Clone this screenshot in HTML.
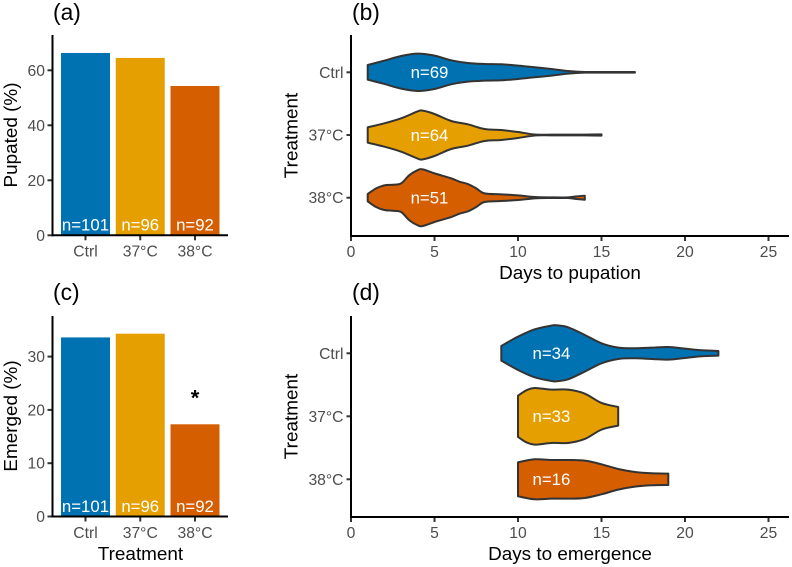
<!DOCTYPE html>
<html lang="en">
<head>
<meta charset="utf-8">
<title>Pupation and emergence by heat treatment</title>
<style>
html,body{margin:0;padding:0;background:#fff;width:792px;height:567px;overflow:hidden}
svg{display:block;font-family:"Liberation Sans",sans-serif}
.tick-label{font-size:15.7px;fill:#4d4d4d}
.axis-title{font-size:18.9px;fill:#000;text-anchor:middle}
.panel-tag{font-size:22.8px;fill:#000}
.n-label{font-size:16.8px;fill:#fff;text-anchor:middle}
</style>
</head>
<body>
<svg id="figure" width="792" height="567" viewBox="0 0 792 567" xmlns="http://www.w3.org/2000/svg">
  <g id="panel-a">
    <text class="panel-tag" x="53" y="20">(a)</text>
    <text class="axis-title" transform="translate(16.8,135) rotate(-90)">Pupated (%)</text>
  </g>
  <g id="panel-b">
    <text class="panel-tag" x="352" y="20">(b)</text>
    <text class="axis-title" transform="translate(297.7,135.5) rotate(-90)">Treatment</text>
    <text class="axis-title" x="570" y="279">Days to pupation</text>
  </g>
  <g id="panel-c">
    <text class="panel-tag" x="53" y="300">(c)</text>
    <text class="axis-title" transform="translate(16.8,416) rotate(-90)">Emerged (%)</text>
    <text class="axis-title" x="140.5" y="560">Treatment</text>
  </g>
  <g id="panel-d">
    <text class="panel-tag" x="352" y="300">(d)</text>
    <text class="axis-title" transform="translate(297.7,416.5) rotate(-90)">Treatment</text>
    <text class="axis-title" x="570" y="560">Days to emergence</text>
  </g>
</svg>
<script>
const categories = ['Ctrl', '37°C', '38°C'];
const sampleLabelsBars = ['n=101', 'n=96', 'n=92'];
const pupatedPercent = [66.3, 64.5, 54.3];
const emergedPercent = [33.6, 34.3, 17.3];
const pupatedTicks = [0, 20, 40, 60];
const emergedTicks = [0, 10, 20, 30];
const dayTicks = [0, 5, 10, 15, 20, 25];
const significanceMarks = ['', '', '*'];

const pupationLabels = ['n=69', 'n=64', 'n=51'];
const pupationDaysCtrl = [1, 2, 3, 4, 5, 6, 7, 8, 9, 10, 11, 12, 13, 14, 15, 16, 17];
const pupationDensityCtrl = [0.22, 0.35, 0.49, 0.56, 0.50, 0.36, 0.28, 0.25, 0.24, 0.20, 0.15, 0.10, 0.04, 0.01, 0.01, 0.01, 0.01];
const pupationDays37 = [1, 2, 3, 4, 4.3, 5, 6, 7, 8, 9, 10, 11, 12, 13, 14, 15];
const pupationDensity37 = [0.23, 0.35, 0.50, 0.71, 0.73, 0.63, 0.42, 0.32, 0.18, 0.15, 0.09, 0.015, 0.01, 0.01, 0.012, 0.02];
const pupationDays38 = [1, 1.5, 2, 2.5, 3, 3.5, 4, 4.3, 5, 6, 6.5, 7, 7.5, 8, 9, 10, 11, 12, 13, 13.5, 14];
const pupationDensity38 = [0.11, 0.28, 0.37, 0.39, 0.43, 0.68, 0.83, 0.85, 0.73, 0.58, 0.48, 0.41, 0.28, 0.13, 0.10, 0.07, 0.02, 0.01, 0.01, 0.04, 0.06];

const emergenceLabels = ['n=34', 'n=33', 'n=16'];
const emergenceDaysCtrl = [9, 10, 11, 12, 12.3, 13, 14, 15, 16, 17, 18, 19, 20, 21, 22];
const emergenceDensityCtrl = [0.22, 0.50, 0.72, 0.83, 0.84, 0.78, 0.55, 0.30, 0.17, 0.15, 0.17, 0.19, 0.14, 0.09, 0.07];
const emergenceDays37 = [10, 10.5, 11, 12, 13, 14, 15, 16];
const emergenceDensity37 = [0.62, 0.78, 0.85, 0.80, 0.80, 0.68, 0.40, 0.28];
const emergenceDays38 = [10, 11, 12, 13, 14, 15, 16, 17, 18, 19];
const emergenceDensity38 = [0.51, 0.60, 0.58, 0.58, 0.56, 0.45, 0.31, 0.22, 0.18, 0.17];

const colors = ['#0072B2', '#E69F00', '#D55E00'];
const NS = 'http://www.w3.org/2000/svg';

function add(parent, tag, attrs, text) {
  const el = document.createElementNS(NS, tag);
  for (const k in attrs) el.setAttribute(k, attrs[k]);
  if (text !== undefined) el.textContent = text;
  parent.appendChild(el);
  return el;
}

const barX = i => 85.5 + 54.75 * i;
const BAR_WIDTH = 49;
const dayX = d => 351 + 16.7 * d;
const halfWidth = density => density * 33.33;

function smoothPath(points) {
  let d = 'M' + points[0][0].toFixed(2) + ',' + points[0][1].toFixed(2);
  for (let i = 0; i < points.length - 1; i++) {
    const p0 = points[Math.max(i - 1, 0)], p1 = points[i], p2 = points[i + 1], p3 = points[Math.min(i + 2, points.length - 1)];
    const t = 1 / 6;
    d += 'C' + (p1[0] + (p2[0] - p0[0]) * t).toFixed(2) + ',' + (p1[1] + (p2[1] - p0[1]) * t).toFixed(2) + ' ' +
      (p2[0] - (p3[0] - p1[0]) * t).toFixed(2) + ',' + (p2[1] - (p3[1] - p1[1]) * t).toFixed(2) + ' ' +
      p2[0].toFixed(2) + ',' + p2[1].toFixed(2);
  }
  return d;
}

function drawAxisLines(g, left, right, top, bottom) {
  const yAxis = add(g, 'line', { x1: left, x2: left, y1: top, y2: bottom + 1, stroke: '#000', 'stroke-width': 2 });
  
  
  const xAxis = add(g, 'line', { x1: left - 1, x2: right, y1: bottom, y2: bottom, stroke: '#000', 'stroke-width': 2 });
  
  
}

function drawBarPanel(id, values, ticks, yScale, bottom, top, labelBaseline, showMarks) {
  const g = document.getElementById(id);
  values.forEach((v, i) => {
    const bar = add(g, 'rect', { x: barX(i) - BAR_WIDTH / 2, y: yScale(v), width: BAR_WIDTH, height: bottom - yScale(v), fill: colors[i] });
    
    
    const n = add(g, 'text', { class: 'n-label', x: barX(i), y: labelBaseline }, sampleLabelsBars[i]);
    
    
    if (showMarks && significanceMarks[i]) {
      const s = add(g, 'text', { x: barX(i), y: yScale(v) - 19, 'text-anchor': 'middle', 'font-size': 22, 'font-weight': 'bold', fill: '#000' }, significanceMarks[i]);
      
      
    }
    const tick = add(g, 'line', { x1: barX(i), x2: barX(i), y1: bottom, y2: bottom + 5, stroke: '#333', 'stroke-width': 2 });
    
    
    const lab = add(g, 'text', { class: 'tick-label', x: barX(i), y: bottom + 21.3, 'text-anchor': 'middle' }, categories[i]);
    
    
  });
  ticks.forEach(t => {
    const tick = add(g, 'line', { x1: 47.5, x2: 52, y1: yScale(t), y2: yScale(t), stroke: '#333', 'stroke-width': 2 });
    
    
    const lab = add(g, 'text', { class: 'tick-label', x: 45, y: yScale(t) + 5.5, 'text-anchor': 'end' }, t);
    
    
  });
  drawAxisLines(g, 52.5, 228, top, bottom);
}

function drawViolinPanel(id, series, labels, yCat, bottom, top) {
  const g = document.getElementById(id);
  series.forEach((s, i) => {
    const cy = yCat(i);
    const upper = s.days.map((d, j) => [dayX(d), cy - halfWidth(s.density[j])]);
    const lower = s.days.map((d, j) => [dayX(d), cy + halfWidth(s.density[j])]).reverse();
    const path = smoothPath(upper) + 'L' + lower[0][0].toFixed(2) + ',' + lower[0][1].toFixed(2) + smoothPath(lower).replace(/^M[^C]*/, '') + 'Z';
    const v = add(g, 'path', { d: path, fill: colors[i], stroke: '#333', 'stroke-width': 2, 'stroke-linejoin': 'round' });
    
    
    const n = add(g, 'text', { class: 'n-label', x: dayX(s.labelDay), y: cy + 5.8 }, labels[i]);
    
    
    const tick = add(g, 'line', { x1: 346.5, x2: 351, y1: cy, y2: cy, stroke: '#333', 'stroke-width': 2 });
    
    
    const lab = add(g, 'text', { class: 'tick-label', x: 343.5, y: cy + 5.5, 'text-anchor': 'end' }, categories[i]);
    
    
  });
  dayTicks.forEach(t => {
    const tick = add(g, 'line', { x1: dayX(t), x2: dayX(t), y1: bottom, y2: bottom + 5, stroke: '#333', 'stroke-width': 2 });
    
    
    const lab = add(g, 'text', { class: 'tick-label', x: dayX(t), y: bottom + 21, 'text-anchor': 'middle' }, t);
    
    
  });
  drawAxisLines(g, 351, 789, top, bottom);
}

drawBarPanel('panel-a', pupatedPercent, pupatedTicks, v => 235.3 - 2.75 * v, 235.3, 35, 230.7, false);
drawBarPanel('panel-c', emergedPercent, emergedTicks, v => 516.5 - 5.33 * v, 516.5, 316, 512, true);

drawViolinPanel('panel-b', [
  { days: pupationDaysCtrl, density: pupationDensityCtrl, labelDay: 4.7 },
  { days: pupationDays37, density: pupationDensity37, labelDay: 4.7 },
  { days: pupationDays38, density: pupationDensity38, labelDay: 4.7 }
], pupationLabels, i => 72.3 + 62.7 * i, 236, 35);

drawViolinPanel('panel-d', [
  { days: emergenceDaysCtrl, density: emergenceDensityCtrl, labelDay: 12 },
  { days: emergenceDays37, density: emergenceDensity37, labelDay: 12 },
  { days: emergenceDays38, density: emergenceDensity38, labelDay: 12 }
], emergenceLabels, i => 353.3 + 63 * i, 517, 316);
</script>
</body>
</html>
